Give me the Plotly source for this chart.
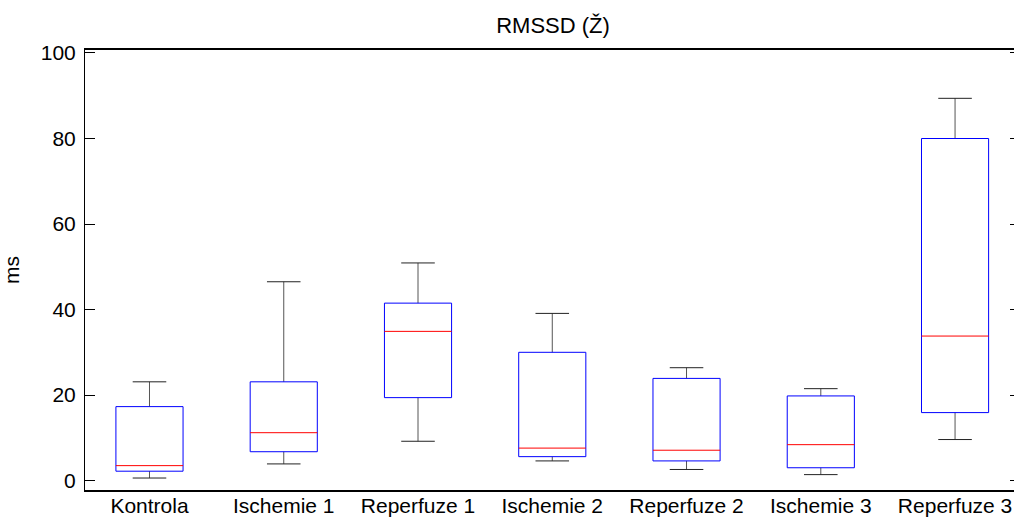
import numpy as np
import plotly.graph_objects as go

# Group names and five-number summaries (ms)
categories = ["Kontrola", "Ischemie 1", "Reperfuze 1", "Ischemie 2",
              "Reperfuze 2", "Ischemie 3", "Reperfuze 3"]
lower_whisker = [0.6, 3.9, 9.2, 4.6, 2.6, 1.4, 9.6]
q1_values = [2.2, 6.75, 19.4, 5.6, 4.6, 3.0, 15.9]
median_values = [3.5, 11.2, 34.9, 7.6, 7.1, 8.4, 33.8]
q3_values = [17.3, 23.1, 41.5, 30.0, 23.9, 19.8, 80.0]
upper_whisker = [23.1, 46.5, 50.9, 39.1, 26.4, 21.5, 89.4]
y_ticks = [0, 20, 40, 60, 80, 100]

positions = np.arange(1, len(categories) + 1)
BOX_W = 0.5
CAP_W = 0.25
FONT = "Liberation Sans, Arial, Helvetica, sans-serif"

# Build the line segments of each box plot from its summary values
bx, by, wx, wy, cx, cy, mx, my = [], [], [], [], [], [], [], []
for p, lo, a, m, b, hi in zip(positions, lower_whisker, q1_values,
                               median_values, q3_values, upper_whisker):
    left, right = p - BOX_W / 2, p + BOX_W / 2
    bx += [left, right, right, left, left, None]
    by += [a, a, b, b, a, None]
    wx += [p, p, None, p, p, None]
    wy += [b, hi, None, a, lo, None]
    cx += [p - CAP_W / 2, p + CAP_W / 2, None, p - CAP_W / 2, p + CAP_W / 2, None]
    cy += [hi, hi, None, lo, lo, None]
    mx += [left, right, None]
    my += [m, m, None]

fig = go.Figure()
# Whisker stems (grey) and caps (black)
fig.add_trace(go.Scatter(x=wx, y=wy, mode="lines",
                         line=dict(color="#555555", width=1),
                         showlegend=False, hoverinfo="skip"))
fig.add_trace(go.Scatter(x=cx, y=cy, mode="lines",
                         line=dict(color="#222222", width=1),
                         showlegend=False, hoverinfo="skip"))
# Interquartile boxes (blue)
fig.add_trace(go.Scatter(x=bx, y=by, mode="lines",
                         line=dict(color="#0000FF", width=1),
                         showlegend=False, hoverinfo="skip"))
# Medians (red)
fig.add_trace(go.Scatter(x=mx, y=my, mode="lines",
                         line=dict(color="#FF0000", width=1),
                         showlegend=False, hoverinfo="skip"))
# Invisible trace so the mirrored right-hand tick axis is drawn
fig.add_trace(go.Scatter(x=[positions[0]], y=[median_values[0]], yaxis="y2",
                         mode="markers", marker=dict(opacity=0),
                         showlegend=False, hoverinfo="skip"))

fig.update_layout(
    width=1014, height=520,
    margin=dict(l=85, r=0, t=50, b=30),
    paper_bgcolor="white", plot_bgcolor="white",
    font=dict(family=FONT, size=20, color="black"),
    title=dict(text="RMSSD (Ž)", x=553 / 1014, xref="container",
               xanchor="center", y=1 - 25 / 520, yref="container",
               yanchor="middle", font=dict(family=FONT, size=22, color="black")),
    xaxis=dict(
        range=[0.5197, 7.439], tickmode="array", tickvals=positions,
        ticktext=categories, ticks="", showgrid=False, zeroline=False,
        showline=True, mirror=True, linecolor="black", linewidth=1.5,
        ticklabelstandoff=-4,
        tickfont=dict(family=FONT, size=21, color="black"),
    ),
    yaxis=dict(
        range=[-2.2, 100.7], tickmode="array", tickvals=y_ticks,
        ticks="inside", ticklen=10, tickcolor="black", tickwidth=1,
        showgrid=False, zeroline=False, showline=True, linecolor="black",
        linewidth=1, ticklabelstandoff=4,
        tickfont=dict(family=FONT, size=21, color="black"),
        title=dict(text="ms", font=dict(family=FONT, size=21, color="black"),
                   standoff=16),
    ),
    yaxis2=dict(
        overlaying="y", side="right", matches="y", anchor="x",
        tickmode="array", tickvals=y_ticks, ticks="inside", ticklen=4,
        tickwidth=1, tickcolor="black", showticklabels=False, showgrid=False,
        zeroline=False, showline=False,
    ),
)

fig.write_html("out.html")
